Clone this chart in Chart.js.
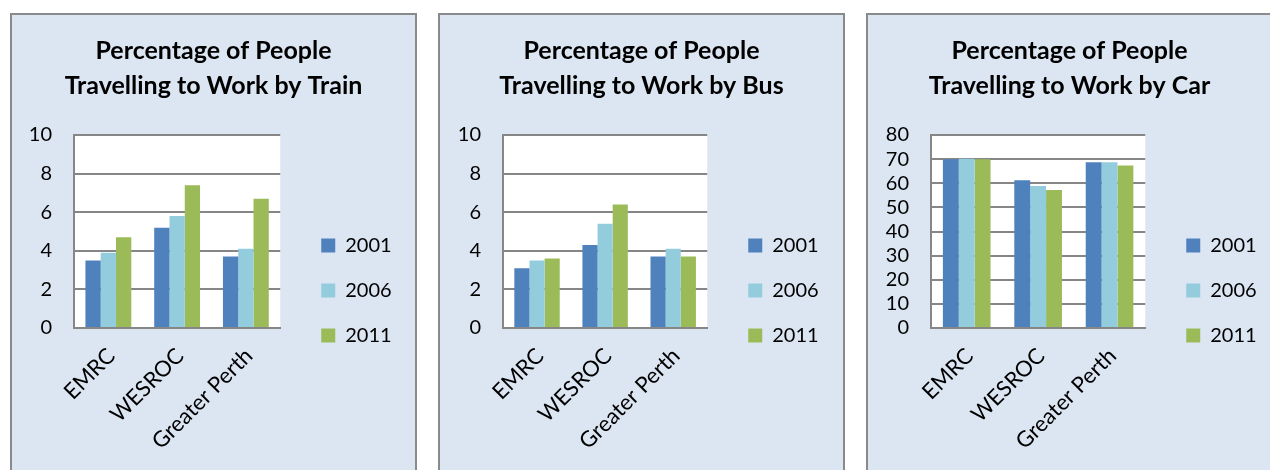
<!DOCTYPE html>
<html lang="en">
<head>
  <meta charset="utf-8">
  <title>Percentage of People Travelling to Work</title>
  <style>
    html, body { margin: 0; padding: 0; background: #ffffff; overflow: hidden; }
    body { width: 1270px; height: 470px; position: relative; }
    .panel {
      position: absolute;
      top: 13px;
      width: 403px;
      height: 551px;
      background: #dce6f2;
      border: 2px solid #8a8a8a;
      overflow: hidden;
    }
    .panel canvas { position: absolute; left: 0; top: 0; }
  </style>
  <script src="https://cdn.jsdelivr.net/npm/chart.js@4.4.1/dist/chart.umd.min.js"></script>
</head>
<body>
  <div class="panel" style="left:10px;"><canvas id="train" width="403" height="551"></canvas></div>
  <div class="panel" style="left:438px;"><canvas id="bus" width="403" height="551"></canvas></div>
  <div class="panel" style="left:866px;"><canvas id="car" width="403" height="551"></canvas></div>
  <script>
    // data
    var regions = ['EMRC', 'WESROC', 'Greater Perth'];
    var years = ['2001', '2006', '2011'];
    var yearColors = ['#4F81BD', '#93CDDD', '#9BBB59'];

    var train2001 = [3.5, 5.2, 3.7];
    var train2006 = [3.9, 5.8, 4.1];
    var train2011 = [4.7, 7.4, 6.7];

    var bus2001 = [3.1, 4.3, 3.7];
    var bus2006 = [3.5, 5.4, 4.1];
    var bus2011 = [3.6, 6.4, 3.7];

    var car2001 = [70.0, 61.2, 68.7];
    var car2006 = [70.2, 58.9, 68.7];
    var car2011 = [70.0, 57.2, 67.4];

    var fontName = 'Lato, "Open Sans", sans-serif';
    Chart.defaults.font.family = fontName;
    Chart.defaults.color = '#000000';

    // white plot area inside the blue chart area
    var plotBg = {
      id: 'plotBg',
      beforeDraw: function (chart) {
        var a = chart.chartArea;
        var ctx = chart.ctx;
        ctx.save();
        ctx.fillStyle = '#ffffff';
        ctx.fillRect(a.left, a.top, a.right - a.left, a.bottom - a.top);
        ctx.restore();
      }
    };

    // hidden spacer axes: one between plot and legend, one outside the legend
    function spacer(width, weight) {
      return {
        type: 'linear',
        position: 'right',
        display: false,
        weight: weight,
        afterFit: function (s) { s.width = width; }
      };
    }

    function makeChart(id, mode, s1, s2, s3, yMax, yStep, yWidth, outerRight) {
      var series = [s1, s2, s3];
      var datasets = [];
      for (var i = 0; i < years.length; i++) {
        datasets.push({
          label: years[i],
          data: series[i],
          backgroundColor: yearColors[i],
          borderWidth: 0,
          categoryPercentage: 0.667,
          barPercentage: 1.0
        });
      }
      return new Chart(document.getElementById(id), {
        type: 'bar',
        data: { labels: regions, datasets: datasets },
        options: {
          responsive: false,
          animation: false,
          plugins: {
            title: {
              display: true,
              text: ['Percentage of People', 'Travelling to Work by ' + mode],
              color: '#000000',
              font: { family: fontName, size: 25, weight: 'bold', lineHeight: 35 / 25 },
              padding: { top: 18, bottom: 32 }
            },
            legend: {
              position: 'right',
              align: 'center',
              labels: {
                boxWidth: 14,
                boxHeight: 14,
                padding: 25,
                color: '#000000',
                font: { size: 20 }
              }
            },
            tooltip: { enabled: false }
          },
          scales: {
            x: {
              grid: { display: false, drawTicks: false },
              border: { display: true, color: '#868686', width: 2 },
              ticks: { minRotation: 45, maxRotation: 45, padding: 15, labelOffset: 3, font: { size: 22 }, color: '#000000' },
              afterFit: function (s) { s.height = 551 - 313; }
            },
            y: {
              min: 0,
              max: yMax,
              ticks: { stepSize: yStep, autoSkip: false, padding: 22, font: { size: 20 }, color: '#000000' },
              grid: { color: '#868686', lineWidth: 2, drawTicks: false },
              border: { display: true, color: '#868686', width: 2 },
              afterFit: function (s) { s.width = yWidth; }
            },
            gap: spacer(16, 0),
            outer: spacer(outerRight, 2000)
          }
        },
        plugins: [plotBg]
      });
    }

    makeChart('train', 'Train', train2001, train2006, train2011, 10, 2, 62, 18);
    makeChart('bus', 'Bus', bus2001, bus2006, bus2011, 10, 2, 63, 19);
    makeChart('car', 'Car', car2001, car2006, car2011, 80, 10, 63, 9);
  </script>
</body>
</html>
